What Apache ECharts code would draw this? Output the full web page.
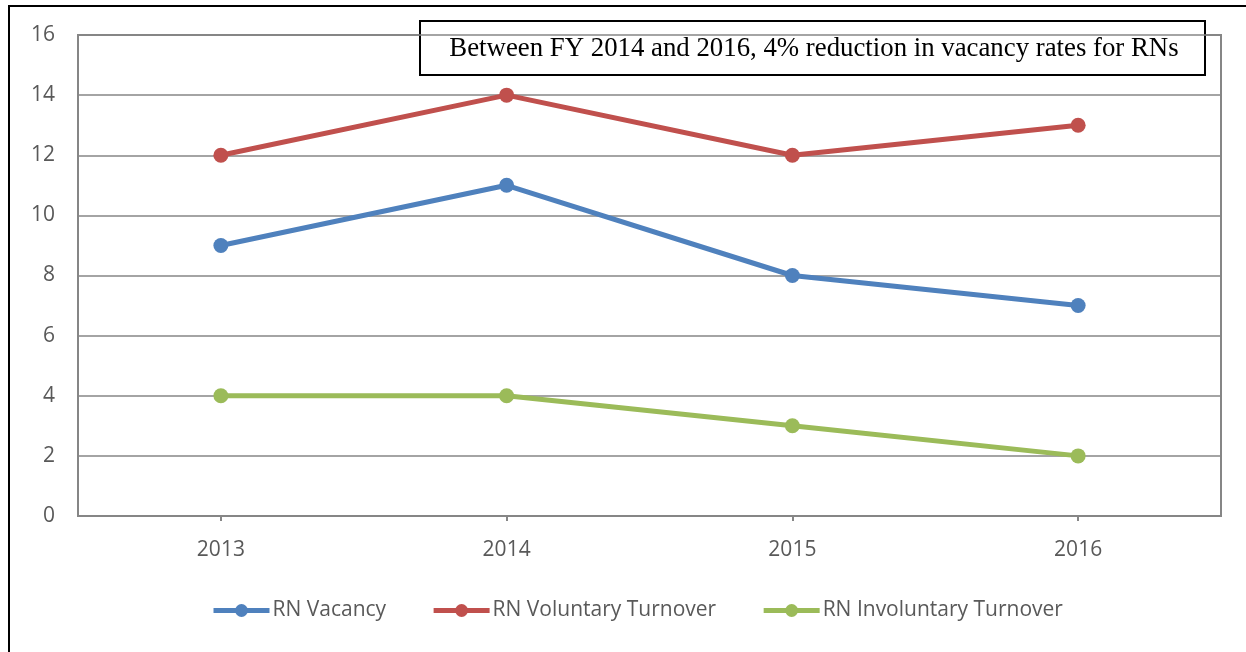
<!DOCTYPE html>
<html>
<head>
<meta charset="utf-8">
<script src="https://cdn.jsdelivr.net/npm/echarts@6/dist/echarts.min.js"></script>
<style>
  html, body { margin: 0; padding: 0; background: #fff; }
  #chart { width: 1246px; height: 652px; }
</style>
</head>
<body>
<div id="chart"></div>
<script>
// Fiscal years on the category axis
const years = ['2013', '2014', '2015', '2016'];

// Rates per year (%)
const rnVacancy = [9, 11, 8, 7];
const rnVoluntaryTurnover = [12, 14, 12, 13];
const rnInvoluntaryTurnover = [4, 4, 3, 2];

const seriesNames = ['RN Vacancy', 'RN Voluntary Turnover', 'RN Involuntary Turnover'];
const seriesColors = ['#4F81BD', '#C0504D', '#9BBB59'];

const noteText = 'Between FY 2014 and 2016, 4% reduction in vacancy rates for RNs';

const axisGray = '#868686';
const labelGray = '#595959';
const uiFont = '"Open Sans", "Liberation Sans", sans-serif';

function lineSeries(name, data, color) {
  return {
    name: name,
    type: 'line',
    data: data,
    symbol: 'circle',
    symbolSize: 15,
    color: color,
    lineStyle: { width: 5, color: color },
    itemStyle: { color: color },
    emphasis: { disabled: true }
  };
}

const chart = echarts.init(document.getElementById('chart'), null, { renderer: 'canvas' });

chart.setOption({
  animation: false,
  backgroundColor: '#ffffff',
  grid: {
    left: 78, top: 35, right: 25, bottom: 136,
    show: true,
    borderColor: axisGray,
    borderWidth: 2
  },
  legend: {
    data: seriesNames,
    left: 206,
    top: 595,
    itemWidth: 56,
    itemHeight: 16,
    itemGap: 45,
    lineStyle: { width: 5 },
    textStyle: { fontFamily: uiFont, fontSize: 21, color: labelGray, padding: [0, 0, 0, -2] }
  },
  xAxis: {
    type: 'category',
    data: years,
    boundaryGap: true,
    axisLine: { show: true, lineStyle: { color: axisGray, width: 2 } },
    axisTick: { show: true, alignWithLabel: true, length: 5, lineStyle: { color: axisGray, width: 2 } },
    axisLabel: { fontFamily: uiFont, fontSize: 21, color: labelGray, margin: 24 },
    splitLine: { show: false }
  },
  yAxis: {
    type: 'value',
    min: 0,
    max: 16,
    interval: 2,
    axisLine: { show: true, lineStyle: { color: axisGray, width: 2 } },
    axisTick: { show: false },
    axisLabel: { fontFamily: uiFont, fontSize: 21, color: labelGray, margin: 23 },
    splitLine: { show: true, lineStyle: { color: axisGray, width: 1.5 } }
  },
  series: [
    lineSeries(seriesNames[0], rnVacancy, seriesColors[0]),
    lineSeries(seriesNames[1], rnVoluntaryTurnover, seriesColors[1]),
    lineSeries(seriesNames[2], rnInvoluntaryTurnover, seriesColors[2])
  ],
  graphic: [
    {
      // outer frame around the chart
      type: 'rect',
      silent: true,
      z: 0,
      shape: { x: 9, y: 6, width: 1400, height: 800 },
      style: { fill: 'none', stroke: '#000', lineWidth: 2 }
    },
    {
      // annotation box
      type: 'group',
      z: 100,
      children: [
        {
          type: 'rect',
          shape: { x: 420, y: 21, width: 785, height: 54 },
          style: { fill: '#fff', stroke: '#000', lineWidth: 2 }
        },
        {
          type: 'text',
          x: 814,
          y: 49,
          style: {
            text: noteText,
            fontFamily: '"Liberation Serif", "DejaVu Serif", serif',
            fontSize: 26.8,
            fill: '#000',
            align: 'center',
            verticalAlign: 'middle'
          }
        }
      ]
    }
  ]
});
</script>
</body>
</html>
